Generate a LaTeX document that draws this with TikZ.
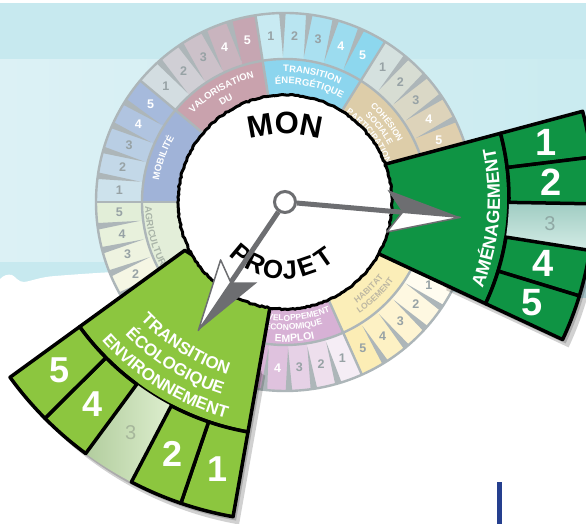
\documentclass[tikz,border=0pt]{standalone}
\usepackage{fontspec}
\setmainfont{Liberation Sans}
\usetikzlibrary{decorations.text,decorations.pathmorphing}

\definecolor{skytop}{HTML}{C7E9EF}
\definecolor{skyleft}{HTML}{DCF1F5}
\definecolor{skyright}{HTML}{CAEBF0}
\definecolor{ringgray}{HTML}{ADB6B9}
\definecolor{numgray}{HTML}{97A2A5}
\definecolor{labgray}{HTML}{BDB7A2}
\definecolor{agrtext}{HTML}{A9B4A8}
\definecolor{ptrgray}{HTML}{6D6E71}
\definecolor{amegreen}{HTML}{0F9444}
\definecolor{ecogreen}{HTML}{8CC63F}
\definecolor{amepaleA}{HTML}{9FCCC2}
\definecolor{amepaleB}{HTML}{D4ECE6}
\definecolor{ecopaleA}{HTML}{B2CD9E}
\definecolor{ecopaleB}{HTML}{DDEECE}
\definecolor{amepalenum}{HTML}{8FA8A4}
\definecolor{ecopalenum}{HTML}{A6B69B}
\definecolor{barblue}{HTML}{253F8E}
% ring colours: 1 = cell 1, 5 = cell 5, L = label band
\definecolor{mob1}{HTML}{CDE2EC}\definecolor{mob5}{HTML}{A6BADC}\definecolor{mobL}{HTML}{A0B3D8}
\definecolor{val1}{HTML}{D3DDE1}\definecolor{val5}{HTML}{C6A6B2}\definecolor{valL}{HTML}{C9A2AD}
\definecolor{ten1}{HTML}{C8EAF2}\definecolor{ten5}{HTML}{8DD7EE}\definecolor{tenL}{HTML}{8CD5EE}
\definecolor{coh1}{HTML}{D5E1DF}\definecolor{coh5}{HTML}{DFCFAE}\definecolor{cohL}{HTML}{DDCDA9}
\definecolor{ame1}{HTML}{0F9444}\definecolor{ame5}{HTML}{0F9444}\definecolor{ameL}{HTML}{0F9444}
\definecolor{hab1}{HTML}{FFFCF0}\definecolor{hab5}{HTML}{FCEDB5}\definecolor{habL}{HTML}{FBEEB8}
\definecolor{dev1}{HTML}{F5EDF5}\definecolor{dev5}{HTML}{D8B4D6}\definecolor{devL}{HTML}{D7B1D5}
\definecolor{eco1}{HTML}{8CC63F}\definecolor{eco5}{HTML}{8CC63F}\definecolor{ecoL}{HTML}{8CC63F}
\definecolor{agr1}{HTML}{FBF9E8}\definecolor{agr5}{HTML}{E2EED8}\definecolor{agrL}{HTML}{E3EED9}

\newcommand{\arctext}[5]{%
  \path[decorate,decoration={text along path,text align=center,text={|#4|#5}}]
    (#1:#3) arc[start angle=#1,end angle=#2,radius=#3];}
\newcommand{\wring}{\fontsize{9.5}{9.5}\selectfont\bfseries\color{white}}
\newcommand{\gring}{\fontsize{9.5}{9.5}\selectfont\bfseries\color{agrtext}}
\newcommand{\wsmall}{\fontsize{8.5}{8.5}\selectfont\bfseries\color{white}}
\newcommand{\gsmall}{\fontsize{8.5}{8.5}\selectfont\bfseries\color{labgray}}
\newcommand{\wemploi}{\fontsize{10.5}{10.5}\selectfont\bfseries\color{white}}
\newcommand{\bigword}{\fontsize{31}{31}\selectfont\bfseries}
\newcommand{\amefont}{\fontsize{18}{18}\selectfont\bfseries\color{white}}
\newcommand{\ecofont}{\fontsize{17}{17}\selectfont\bfseries\color{white}}

\begin{document}
\begin{tikzpicture}[x=1pt,y=1pt,
  ringline/.style={draw=ringgray,line width=2.4pt},
  cellnum/.style={font=\fontsize{12.5}{12.5}\selectfont\bfseries,inner sep=0pt},
  bignum/.style={font=\fontsize{38}{38}\selectfont\bfseries,text=white,inner sep=0pt},
  palenum/.style={font=\fontsize{20}{20}\selectfont,inner sep=0pt},
  projletter/.style={font=\fontsize{26}{26}\selectfont\bfseries,inner sep=0pt},
  blackedge/.style={draw=black,line width=3.5pt,line join=round},
  pointer/.style={draw=ptrgray,line width=5pt},
  hub/.style={circle,draw=ptrgray,fill=white,line width=3pt,minimum size=21pt,inner sep=0pt}]

\useasboundingbox (0,0) rectangle (586,524);
\clip (0,0) rectangle (586,524);

% background
\fill[white] (0,0) rectangle (586,524);
\fill[skytop] (0,464) rectangle (586,521);
\shade[left color=skyleft,right color=skyright] (0,262) rectangle (586,464);
\fill[skytop] (0,226) rectangle (586,262);
\fill[white] (0,245) .. controls (4,249) and (8,250) .. (12,249)
  .. controls (16,247) and (18,242) .. (24,242)
  .. controls (32,243) and (40,247) .. (55,248)
  .. controls (80,250) and (110,252) .. (150,254) -- (586,222) -- (586,0) -- (0,0) -- cycle;
\fill[barblue] (497,0) rectangle (502,42);

\coordinate (O) at (285,322);

% outer ring
\begin{scope}[shift={(O)}]
\foreach \a/\z/\nm/\wn in {180/140/mob/3,140/99/val/3,99/58/ten/3,58/18/coh/3,18/-26/ame/5,
    -26/-66/hab/5,-66/-104/dev/3,-104/-143/eco/5,-143/-180/agr/5}{
  \pgfmathsetmacro\w{(\a-\z)/5}
  \fill[\nm L] (\a:106) arc[start angle=\a,end angle=\z,radius=106] -- (\z:143)
    arc[start angle=\z,end angle=\a,radius=143] -- cycle;
  \foreach \i in {1,...,5}{
    \pgfmathsetmacro\b{\a-\w*(\i-1)}
    \pgfmathsetmacro\e{\a-\w*\i}
    \pgfmathtruncatemacro\p{25*(\i-1)}
    \fill[fill={\nm5!\p!\nm1}] (\b:143) arc[start angle=\b,end angle=\e,radius=143] -- (\e:189)
      arc[start angle=\e,end angle=\b,radius=189] -- cycle;
    \ifnum\i>\wn\def\tc{white}\else\def\tc{numgray}\fi
    \node[cellnum,text=\tc] (\nm-\i) at (\b-\w/2:166) {\i};
  }
  \foreach \i in {1,...,4}{
    \pgfmathsetmacro\b{\a-\w*\i}
    \fill[ringgray] (\b:146) -- (\b+1:189) -- (\b-1:189) -- cycle;
  }
}
\foreach \a in {180,140,99,58,18,-26,-66,-104,-143}
  \draw[ringline] (\a:106) -- (\a:189);
\draw[ringline] (0,0) circle[radius=143];
\draw[ringline] (0,0) circle[radius=189];

% ring labels
\arctext{195}{125}{128}{\wring}{MOBILITÉ}
\arctext{155}{85}{128}{\wring}{VALORISATION}
\arctext{155}{85}{115}{\wring}{DU}
\arctext{113}{43}{130}{\wring}{TRANSITION}
\arctext{113}{43}{118}{\wring}{ÉNERGÉTIQUE}
\arctext{73}{3}{128}{\wsmall}{COHÉSION}
\arctext{73}{3}{118}{\wsmall}{SOCIALE}
\arctext{73}{3}{108}{\wsmall}{PARTICIPATION}
\arctext{-81}{-11}{124}{\gsmall}{HABITAT}
\arctext{-81}{-11}{134}{\gsmall}{LOGEMENT}
\arctext{-121}{-51}{119}{\wsmall}{DÉVELOPPEMENT}
\arctext{-121}{-51}{128}{\wsmall}{ÉCONOMIQUE}
\arctext{-121}{-51}{140}{\wemploi}{EMPLOI}
\arctext{-199}{-129}{140}{\gring}{AGRICULTURE}
\end{scope}

% amenagement, pulled out
\begin{scope}[shift={(259,326)}]
  \foreach \d in {3,6}
    \fill[black,opacity=.18,shift={(\d,-1.3*\d)}] (15:200) -- (15:335)
      arc[start angle=15,end angle=-25,radius=335] -- (-25:200) -- cycle;
  \filldraw[fill=amegreen,blackedge] (15:131) -- (15:250)
    arc[start angle=15,end angle=-25,radius=250] -- (-25:131) -- cycle;
  \shade[top color=amepaleA,bottom color=amepaleB] (-1:250) -- (-1:335)
    arc[start angle=-1,end angle=-9,radius=335] -- (-9:250)
    arc[start angle=-9,end angle=-1,radius=250] -- cycle;
  \node[palenum,text=amepalenum] (ameBox3) at (-5:292) {3};
  \foreach \i in {1,2,4,5}{
    \pgfmathsetmacro\b{15-8*(\i-1)}
    \pgfmathsetmacro\e{15-8*\i}
    \filldraw[fill=amegreen,blackedge] (\b:250) -- (\b:335)
      arc[start angle=\b,end angle=\e,radius=335] -- (\e:250)
      arc[start angle=\e,end angle=\b,radius=250] -- cycle;
    \node[bignum] (ameBox\i) at (\b-4:292) {\i};
  }
  \arctext{-45}{35}{241}{\amefont}{AMÉNAGEMENT}
\end{scope}

% transition ecologique, pulled out
\begin{scope}[shift={(294,353)}]
  \foreach \d in {3,6}
    \fill[black,opacity=.18,shift={(\d,-1.3*\d)}] (-100:200) -- (-100:351)
      arc[start angle=-100,end angle=-144,radius=351] -- (-144:200) -- cycle;
  \filldraw[fill=ecogreen,blackedge] (-100:135) -- (-100:265)
    arc[start angle=-100,end angle=-144,radius=265] -- (-144:135) -- cycle;
  \shade[left color=ecopaleA,right color=ecopaleB] (-117.6:265) -- (-117.6:351)
    arc[start angle=-117.6,end angle=-126.4,radius=351] -- (-126.4:265)
    arc[start angle=-126.4,end angle=-117.6,radius=265] -- cycle;
  \node[palenum,text=ecopalenum] (ecoBox3) at (-122:308) {3};
  \foreach \i in {1,2,4,5}{
    \pgfmathsetmacro\b{-100-8.8*(\i-1)}
    \pgfmathsetmacro\e{-100-8.8*\i}
    \filldraw[fill=ecogreen,blackedge] (\b:265) -- (\b:351)
      arc[start angle=\b,end angle=\e,radius=351] -- (\e:265)
      arc[start angle=\e,end angle=\b,radius=265] -- cycle;
    \node[bignum,font=\fontsize{36}{36}\selectfont\bfseries] (ecoBox\i) at (\b-4.4:308) {\i};
  }
  \arctext{-172}{-72}{214}{\ecofont}{TRANSITION}
  \arctext{-172}{-72}{235}{\ecofont}{ÉCOLOGIQUE}
  \arctext{-172}{-72}{256}{\ecofont}{ENVIRONNEMENT}
\end{scope}

% centre disk
\filldraw[fill=white,draw=black,line width=3pt,decorate,
  decoration={random steps,segment length=2.5pt,amplitude=.6pt}] (O) circle[radius=107];
\begin{scope}[shift={(285,258)}]
\arctext{130}{50}{132}{\bigword}{MON}
\end{scope}
\begin{scope}[shift={(O)}]
\foreach \ch/\ang in {P/-130,R/-115,O/-100,J/-86,E/-71,T/-55}
  \node[projletter,rotate=\ang+90] (pj\ch) at (\ang:68) {\ch};
\end{scope}

% pointers
\node[hub] (hub) at (O) {};
\begin{scope}[shift={(O)},rotate=-5]
  \coordinate (ameNotch) at (120,0);
  \draw[pointer] (hub) -- (ameNotch);
  \fill[ptrgray] (101,21) -- (176,0) -- (118,0) -- cycle;
  \filldraw[fill=white,draw=ptrgray,line width=1.5pt,line join=round] (118,0) -- (176,0) -- (104,-21) -- cycle;
\end{scope}
\begin{scope}[shift={(O)},rotate=-124]
  \coordinate (ecoNotch) at (99,0);
  \draw[pointer] (hub) -- (ecoNotch);
  \fill[ptrgray] (82,22) -- (155,0) -- (97,0) -- cycle;
  \filldraw[fill=white,draw=ptrgray,line width=1.5pt,line join=round] (97,0) -- (155,0) -- (84,-21) -- cycle;
\end{scope}
\end{tikzpicture}
\end{document}
